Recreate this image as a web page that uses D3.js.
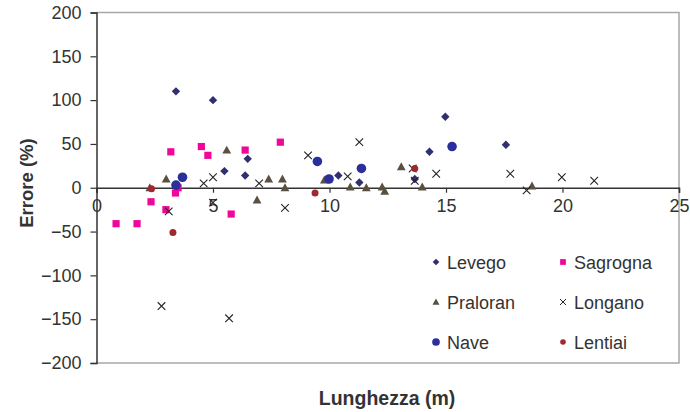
<!DOCTYPE html>
<html>
<head>
<meta charset="utf-8">
<script src="https://cdn.jsdelivr.net/npm/d3@7"></script>
<style>
  body { margin: 0; background: #fff; }
  text { font-family: "Liberation Sans", Arial, sans-serif; fill: #333; }
</style>
</head>
<body>
<div id="chart"></div>
<script>
// data: [lunghezza (m), errore (%)]
var levego = [[3.41,110],[5.0,100],[5.49,19],[6.38,14],[6.49,33],[10.38,14],[11.28,6],[13.66,10],[14.29,41],[14.97,81],[17.57,49]];
var sagrogna = [[0.84,-41],[1.74,-41],[2.34,-16],[2.98,-25],[3.19,41],[3.39,-6],[3.5,0],[4.5,47],[4.78,37],[5.78,-30],[6.38,43],[7.89,52]];
var praloran = [[2.29,0],[2.99,10],[5.59,43],[6.89,-14],[7.39,10],[7.98,10],[8.09,0],[9.78,9],[10.89,1],[11.58,0],[12.26,1],[12.37,-4],[13.08,24],[13.98,1],[18.69,2]];
var longano = [[2.79,-135],[3.1,-27],[4.6,5],[5.0,12],[5.0,-17],[5.69,-149],[6.98,5],[8.09,-23],[9.08,37],[10.78,13],[11.28,52],[13.57,22],[13.66,8],[14.58,16],[17.76,16],[18.46,-3],[19.97,12],[21.36,8]];
var nave = [[3.41,3],[3.69,12],[9.48,30],[9.98,10],[11.37,22],[15.26,47]];
var lentiai = [[2.36,-1],[3.28,-51],[9.38,-6],[13.66,22]];

var xTicks = [0, 5, 10, 15, 20, 25];
var yTicks = [-200, -150, -100, -50, 0, 50, 100, 150, 200];

var width = 690, height = 412;
var svg = d3.select("#chart").append("svg").attr("width", width).attr("height", height);

var x = d3.scaleLinear().domain([0, 25]).range([96.5, 679]);
var y = d3.scaleLinear().domain([-200, 200]).range([363, 12.5]);

// plot area border (gray)
svg.append("path")
  .attr("d", "M" + x(0) + "," + y(200) + "H" + x(25) + "V" + y(-200) + "H" + x(0))
  .attr("fill", "none").attr("stroke", "#a8a8a8").attr("stroke-width", 1.5);

// y axis
var yAxis = svg.append("g").attr("transform", "translate(" + x(0) + ",0)")
  .call(d3.axisLeft(y).tickValues(yTicks).tickSize(6).tickPadding(9).tickFormat(d3.format("d")));
yAxis.selectAll("text").style("font-size", "18px").attr("fill", "#333");

// x axis crossing at 0
var xAxis = svg.append("g").attr("transform", "translate(0," + y(0) + ")")
  .call(d3.axisBottom(x).tickValues(xTicks).tickSize(5).tickPadding(6).tickFormat(d3.format("d")));
xAxis.selectAll("text").style("font-size", "18px").attr("fill", "#333");

svg.selectAll(".domain").attr("stroke", "#333").attr("stroke-width", 1.5);
svg.selectAll(".tick line").attr("stroke", "#333").attr("stroke-width", 1.2);

// titles
svg.append("text").attr("x", 387).attr("y", 405).attr("text-anchor", "middle")
  .style("font-size", "19.5px").style("font-weight", "bold").text("Lunghezza (m)");
svg.append("text").attr("transform", "translate(33,183) rotate(-90)").attr("text-anchor", "middle")
  .style("font-size", "18.5px").style("font-weight", "bold").text("Errore (%)");

// marker shapes
function diamond(s) { return "M0," + (-s) + "L" + s + ",0L0," + s + "L" + (-s) + ",0Z"; }
function square(s) { return "M" + (-s) + "," + (-s) + "h" + 2*s + "v" + 2*s + "h" + (-2*s) + "Z"; }
function triangle(s) { return "M0," + (-s) + "L" + s + "," + (s*0.8) + "L" + (-s) + "," + (s*0.8) + "Z"; }
function cross(s) { return "M" + (-s) + "," + (-s) + "L" + s + "," + s + "M" + (-s) + "," + s + "L" + s + "," + (-s); }
function circle(s) { return d3.symbol(d3.symbolCircle, Math.PI * s * s)(); }

var series = [
  { name: "Levego",   data: levego,   color: "#303070", shape: diamond,  size: 4.2, stroke: false },
  { name: "Sagrogna", data: sagrogna, color: "#f0079a", shape: square,   size: 3.6, stroke: false },
  { name: "Praloran", data: praloran, color: "#5a5040", shape: triangle, size: 4.4, stroke: false },
  { name: "Longano",  data: longano,  color: "#222222", shape: cross,    size: 3.8, stroke: true },
  { name: "Nave",     data: nave,     color: "#2b2f9c", shape: circle,   size: 4.8, stroke: false },
  { name: "Lentiai",  data: lentiai,  color: "#a0282e", shape: circle,   size: 3.5, stroke: false }
];

series.forEach(function(s) {
  svg.append("g").selectAll("path").data(s.data).enter().append("path")
    .attr("transform", function(d) { return "translate(" + x(d[0]) + "," + y(d[1]) + ")"; })
    .attr("d", s.shape(s.size))
    .attr("fill", s.stroke ? "none" : s.color)
    .attr("stroke", s.stroke ? s.color : "none")
    .attr("stroke-width", 1.1);
});

// legend
var legPos = [[436, 262], [563, 262], [436, 302], [563, 302], [436, 342], [563, 342]];
series.forEach(function(s, i) {
  var g = svg.append("g").attr("transform", "translate(" + legPos[i][0] + "," + legPos[i][1] + ")");
  g.append("path").attr("d", s.shape(s.stroke ? 3 : s.size * 0.8))
    .attr("fill", s.stroke ? "none" : s.color)
    .attr("stroke", s.stroke ? s.color : "none").attr("stroke-width", 1);
  g.append("text").attr("x", 11).attr("y", 6.5).style("font-size", "18px").text(s.name);
});
</script>
</body>
</html>
